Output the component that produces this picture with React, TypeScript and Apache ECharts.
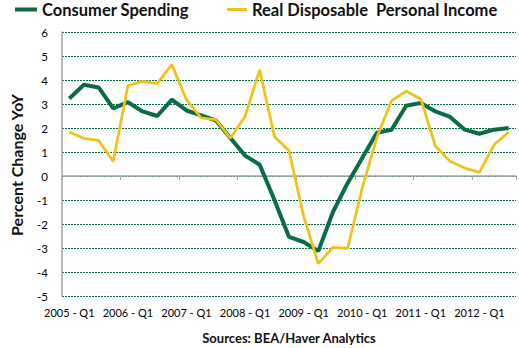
import React, { useEffect, useRef } from "react";
import * as echarts from "echarts";

const categories = [
  "2005 - Q1", "2005 - Q2", "2005 - Q3", "2005 - Q4",
  "2006 - Q1", "2006 - Q2", "2006 - Q3", "2006 - Q4",
  "2007 - Q1", "2007 - Q2", "2007 - Q3", "2007 - Q4",
  "2008 - Q1", "2008 - Q2", "2008 - Q3", "2008 - Q4",
  "2009 - Q1", "2009 - Q2", "2009 - Q3", "2009 - Q4",
  "2010 - Q1", "2010 - Q2", "2010 - Q3", "2010 - Q4",
  "2011 - Q1", "2011 - Q2", "2011 - Q3", "2011 - Q4",
  "2012 - Q1", "2012 - Q2", "2012 - Q3",
];

const consumerSpending = [
  3.23, 3.8, 3.69, 2.82, 3.08, 2.69, 2.5, 3.18,
  2.73, 2.53, 2.32, 1.58, 0.85, 0.47, -0.99, -2.54,
  -2.75, -3.13, -1.5, -0.3, 0.75, 1.8, 1.93, 2.93,
  3.04, 2.69, 2.46, 1.93, 1.76, 1.93, 2.0,
];

const realDisposableIncome = [
  1.82, 1.57, 1.48, 0.61, 3.76, 3.94, 3.85, 4.64,
  3.18, 2.42, 2.35, 1.58, 2.48, 4.43, 1.65, 1.05,
  -1.68, -3.65, -2.97, -3.02, -0.5, 1.6, 3.14, 3.53,
  3.21, 1.24, 0.61, 0.33, 0.15, 1.3, 1.83,
];

const GREEN = "#0b6b45";
const YELLOW = "#f3c019";
const FONT = "Lato, 'Noto Sans', sans-serif";

export default function App() {
  const ref = useRef<HTMLDivElement>(null);
  useEffect(() => {
    const chart = echarts.init(ref.current!, null, { renderer: "svg" });
    chart.setOption({
      animation: false,
      backgroundColor: "#ffffff",
      textStyle: { fontFamily: FONT },
      grid: { left: 62, top: 32, width: 454, height: 264, containLabel: false },
      legend: [
        {
          left: 15,
          top: 1,
          padding: 0,
          itemWidth: 22,
          itemHeight: 4,
          icon: "rect",
          data: ["Consumer Spending"],
          textStyle: { fontSize: 16.5, fontWeight: "bold", color: "#111", fontFamily: FONT },
        },
        {
          left: 227,
          top: 1,
          padding: 0,
          itemWidth: 20,
          itemHeight: 3,
          icon: "rect",
          data: ["Real Disposable  Personal Income"],
          textStyle: { fontSize: 16.5, fontWeight: "bold", color: "#111", fontFamily: FONT },
        },
      ],
      xAxis: [
        {
          type: "category",
          data: categories,
          boundaryGap: true,
          position: "bottom",
          axisLine: { show: true, onZero: true, lineStyle: { color: "#a6a6a6", width: 1.5 } },
          axisTick: { show: true, interval: 3, length: 4, lineStyle: { color: "#a6a6a6" } },
          axisLabel: { show: false },
          splitLine: { show: false },
        },
        {
          type: "category",
          data: categories,
          boundaryGap: true,
          position: "bottom",
          axisLine: { show: false, onZero: false },
          axisTick: { show: false },
          axisLabel: { interval: 3, margin: 11, fontSize: 11, color: "#000", fontFamily: FONT },
          splitLine: { show: false },
        },
      ],
      yAxis: {
        type: "value",
        min: -5,
        max: 6,
        interval: 1,
        axisLine: { show: true, onZero: false, lineStyle: { color: "#a6a6a6", width: 1.5 } },
        axisTick: { show: false },
        axisLabel: { margin: 14, fontSize: 11.5, color: "#000", fontFamily: FONT },
        splitLine: { show: true, lineStyle: { color: "#00703c", width: 1, type: [2, 1] } },
      },
      series: [
        {
          name: "Consumer Spending",
          type: "line",
          xAxisIndex: 0,
          data: consumerSpending,
          symbol: "none",
          lineStyle: { color: GREEN, width: 4 },
          itemStyle: { color: GREEN },
          z: 3,
        },
        {
          name: "Real Disposable  Personal Income",
          type: "line",
          xAxisIndex: 0,
          data: realDisposableIncome,
          symbol: "none",
          lineStyle: { color: YELLOW, width: 2.75 },
          itemStyle: { color: YELLOW },
          z: 4,
        },
      ],
      graphic: [
        {
          type: "text",
          x: 16,
          y: 165,
          rotation: Math.PI / 2,
          style: {
            text: "Percent Change YoY",
            font: "bold 16px " + FONT,
            fill: "#111",
            align: "center",
            verticalAlign: "middle",
          },
        },
        {
          type: "text",
          x: 289,
          y: 338,
          style: {
            text: "Sources: BEA/Haver Analytics",
            font: "bold 13px " + FONT,
            fill: "#111",
            align: "center",
            verticalAlign: "middle",
          },
        },
      ],
    });
    return () => chart.dispose();
  }, []);
  return (
    <div
      ref={ref}
      style={{ position: "absolute", left: 0, top: 0, width: 519, height: 348, background: "#fff" }}
    />
  );
}
